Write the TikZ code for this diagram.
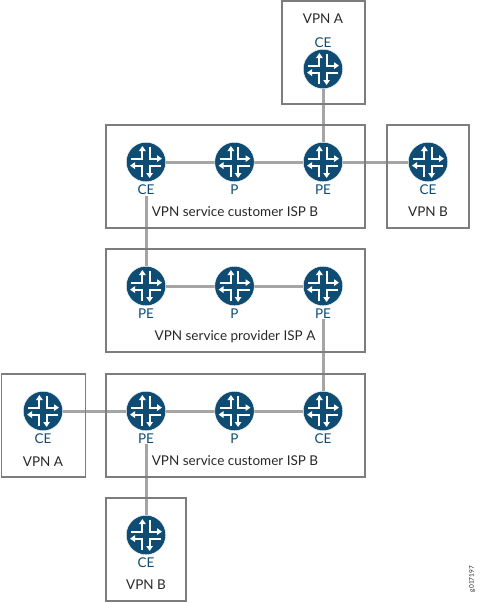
\documentclass[tikz,border=0pt]{standalone}
\usepackage{fontspec}
\setmainfont{Lato}
\usetikzlibrary{arrows.meta,positioning,backgrounds}
\definecolor{routerblue}{RGB}{15,76,115}
\definecolor{boxgray}{RGB}{125,125,125}
\definecolor{linkgray}{RGB}{165,165,165}
\definecolor{textgray}{RGB}{40,40,40}
\newcommand{\routerarrows}{%
  \begin{scope}[shift={(path picture bounding box.center)},white,line width=2pt,-{Triangle[length=5pt,width=6.5pt]}]
    \draw (-15,-3.4) -- (-3.6,-3.4) -- (-3.6,-16);
    \draw (3.6,-15) -- (3.6,-3.4) -- (16,-3.4);
    \draw (15,3.6) -- (3.6,3.6) -- (3.6,16);
    \draw (-3.6,15) -- (-3.6,3.6) -- (-16,3.6);
  \end{scope}}
\begin{document}
\begin{tikzpicture}[x=1pt,y=-1pt,node distance=49pt,outer sep=0pt]
  \tikzset{router/.style={circle,fill=routerblue,draw=white,line width=0.4pt,minimum size=39.5pt,inner sep=0pt,path picture={\routerarrows}}}
  \tikzset{region/.style={draw=boxgray,line width=1.8pt,anchor=north west,inner sep=0pt}}
  \tikzset{role/.style={font=\fontsize{13.5}{15}\selectfont,text=routerblue,inner sep=1pt}}
  \tikzset{caption/.style={font=\fontsize{13.5}{15}\selectfont,text=textgray,inner sep=1pt}}
  \tikzset{link/.style={draw=linkgray,line width=3pt}}
  \useasboundingbox (0,0) rectangle (480,603);
  \node[region,minimum width=83pt,minimum height=103pt] (boxtop) at (282,1) {};
  \node[region,minimum width=259pt,minimum height=103pt] (boxb) at (106,125) {};
  \node[region,minimum width=82pt,minimum height=103pt] (boxbv) at (387,125) {};
  \node[region,minimum width=259pt,minimum height=103pt] (boxa) at (106,249) {};
  \node[region,minimum width=259pt,minimum height=103pt] (boxc) at (106,374) {};
  \node[region,minimum width=84pt,minimum height=103pt] (boxcv) at (1.5,374) {};
  \node[region,minimum width=80pt,minimum height=103pt] (boxbot) at (106,498) {};
  \node[router] (topce) at (323,69) {};
  \node[router] (bce) at (146,162) {};
  \node[router,right=of bce] (bp) {};
  \node[router,right=of bp] (bpe) {};
  \node[router] (vbce) at (428,162) {};
  \node[router] (ape1) at (146,286) {};
  \node[router,right=of ape1] (ap) {};
  \node[router,right=of ap] (ape2) {};
  \node[router] (vace) at (43,411) {};
  \node[router] (cpe) at (146,411) {};
  \node[router,right=of cpe] (cp) {};
  \node[router,right=of cp] (cce) {};
  \node[router] (botce) at (146,535) {};
  \node[caption] (topname) at (323,19) {VPN A};
  \node[role,above=1pt of topce] (toprole) {CE};
  \node[role,below=2pt of bce] (bcerole) {CE};
  \node[role,below=2pt of bp] (bprole) {P};
  \node[role,below=2pt of bpe] (bperole) {PE};
  \node[role,below=2pt of vbce] (vbcerole) {CE};
  \node[caption] (bname) at (235,212) {VPN service customer ISP B};
  \node[caption] (vbname) at (428,212) {VPN B};
  \node[role,below=2pt of ape1] (ape1role) {PE};
  \node[role,below=2pt of ap] (aprole) {P};
  \node[role,below=2pt of ape2] (ape2role) {PE};
  \node[caption] (aname) at (235,337) {VPN service provider ISP A};
  \node[role,below=2pt of vace] (vacerole) {CE};
  \node[role,below=2pt of cpe] (cperole) {PE};
  \node[role,below=2pt of cp] (cprole) {P};
  \node[role,below=2pt of cce] (ccerole) {CE};
  \node[caption] (vaname) at (43,462) {VPN A};
  \node[caption] (cname) at (235,461) {VPN service customer ISP B};
  \node[role,below=2pt of botce] (botrole) {CE};
  \node[caption] (botname) at (146,585) {VPN B};
  \node[rotate=90,font=\fontsize{6.5}{7}\selectfont,text=textgray,inner sep=0pt] (figid) at (472,579) {g017197};
  \begin{scope}[on background layer]
    \draw[link] (topce) -- (bpe);
    \draw[link] (bce) -- (bp);
    \draw[link] (bp) -- (bpe);
    \draw[link] (bpe) -- (vbce);
    \draw[link] (bcerole) -- (ape1);
    \draw[link] (ape1) -- (ap);
    \draw[link] (ap) -- (ape2);
    \draw[link] (ape2role) -- (cce);
    \draw[link] (vace) -- (cpe);
    \draw[link] (cpe) -- (cp);
    \draw[link] (cp) -- (cce);
    \draw[link] (cperole) -- (botce);
  \end{scope}
\end{tikzpicture}
\end{document}
